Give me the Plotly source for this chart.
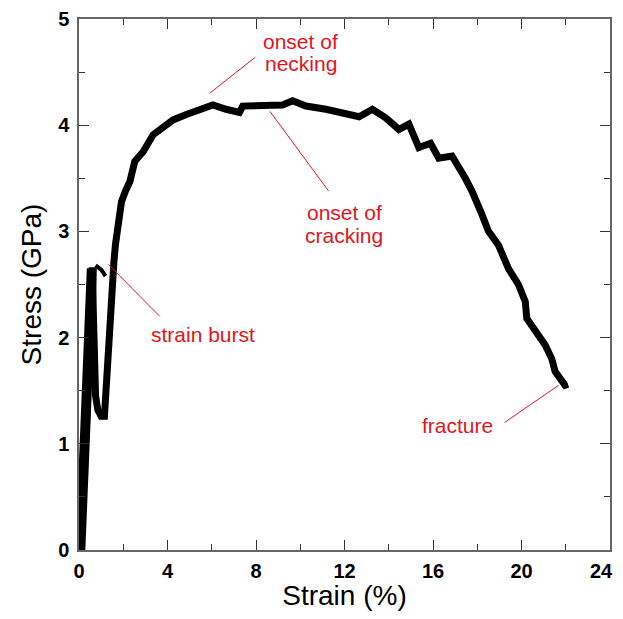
import plotly.graph_objects as go

# Stress-strain curve (strain in %, stress in GPa)
load_strain = [0.06, 0.1, 0.15, 0.2, 0.25, 0.3, 0.34, 0.38, 0.42, 0.46, 0.5, 0.52, 0.55, 0.58]
load_stress = [0.0, 0.2, 0.45, 0.7, 0.95, 1.2, 1.4, 1.6, 1.8, 1.95, 2.15, 2.35, 2.5, 2.65]

strain = [0.62, 0.64, 0.67, 0.7, 0.75, 0.85, 1.0, 1.15,
          1.2, 1.25, 1.3, 1.35, 1.42, 1.5, 1.58, 1.65, 1.77, 1.92, 2.1, 2.3, 2.52, 2.9, 3.35, 3.65,
          4.25, 4.85, 5.45, 6.05, 6.65, 7.25, 7.4, 8.15, 8.75, 9.2, 9.65, 10.26, 11.16, 11.9,
          12.66, 13.26, 13.86, 14.46, 14.91, 15.36, 15.89, 16.26, 16.86, 17.46, 17.76, 18.21,
          18.51, 18.96, 19.41, 19.86, 20.17, 20.24, 20.62, 21.07, 21.37, 21.52, 21.97, 22.1]
stress = [2.6, 2.3, 1.95, 1.65, 1.45, 1.32, 1.26, 1.26,
          1.45, 1.7, 1.9, 2.1, 2.3, 2.5, 2.72, 2.88, 3.13, 3.28, 3.38, 3.47, 3.66, 3.75, 3.91, 3.96,
          4.05, 4.10, 4.15, 4.19, 4.15, 4.12, 4.18, 4.18, 4.18, 4.19, 4.23, 4.18, 4.15, 4.12,
          4.08, 4.15, 4.07, 3.96, 4.01, 3.79, 3.83, 3.69, 3.71, 3.50, 3.38, 3.16,
          3.00, 2.87, 2.65, 2.50, 2.34, 2.18, 2.06, 1.93, 1.80, 1.68, 1.55, 1.56]

# small strain-burst fragment
burst_strain = [0.75, 1.0, 1.2]
burst_stress = [2.68, 2.64, 2.58]

# annotations: text lines, text x, text y per line, leader line (from, to)
labels = [
    (["onset of", "necking"], 10.03, [4.79, 4.58], (5.90, 4.30), (7.97, 4.64)),
    (["onset of", "cracking"], 11.98, [3.18, 2.96], (8.63, 4.13), (11.28, 3.38)),
    (["strain burst"], 5.60, [2.03], (1.32, 2.69), (3.65, 2.20)),
    (["fracture"], 17.09, [1.17], (19.23, 1.20), (21.67, 1.55)),
]

x_ticks = [0, 4, 8, 12, 16, 20, 24]
x_tick_labels = ["0", "4", "8", "12", "16", "20", ""]
last_x_label = "24"   # drawn separately so it stays inside the page edge
y_ticks = [0, 1, 2, 3, 4, 5]

RED = "#e3141c"
FONT = "Liberation Sans, Arial, Helvetica, sans-serif"

fig = go.Figure()
fig.add_trace(go.Scatter(x=load_strain + [0.6] + strain, y=load_stress + [2.66] + stress, mode="lines",
                         line=dict(color="black", width=7), showlegend=False))
fig.add_trace(go.Scatter(x=load_strain, y=load_stress, mode="lines",
                         line=dict(color="black", width=10), showlegend=False))
fig.add_trace(go.Scatter(x=burst_strain, y=burst_stress, mode="lines",
                         line=dict(color="black", width=4), showlegend=False))

for lines, tx, tys, p0, p1 in labels:
    for line, ty in zip(lines, tys):
        fig.add_annotation(x=tx, y=ty, text=line, showarrow=False,
                           font=dict(family=FONT, size=21, color=RED))
    fig.add_shape(type="line", x0=p0[0], y0=p0[1], x1=p1[0], y1=p1[1],
                  line=dict(color=RED, width=1))

fig.add_annotation(x=x_ticks[-1], y=0, xref="x", yref="y", text=last_x_label, showarrow=False,
                   xanchor="right", yanchor="top", xshift=4, yshift=-9, borderpad=0,
                   font=dict(family=FONT, size=20, color="black", weight="bold"))

axis_common = dict(showline=True, linecolor="#666666", linewidth=1.5, mirror="ticks",
                   ticks="inside", ticklen=10, tickwidth=1.2, tickcolor="#333333",
                   showgrid=False, zeroline=False, automargin=False,
                   tickfont=dict(family=FONT, size=20, color="black", weight="bold"))

fig.update_xaxes(range=[0, 24], tickvals=x_ticks, ticktext=x_tick_labels,
                 minor=dict(ticks="inside", ticklen=6, dtick=2, tickcolor="#333333", tickwidth=1.2),
                 ticklabelstandoff=2,
                 title=dict(text="Strain (%)", font=dict(family=FONT, size=28, color="black"), standoff=4),
                 **axis_common)
fig.update_yaxes(range=[0, 5], tickvals=y_ticks, ticktext=[str(v) for v in y_ticks],
                 minor=dict(ticks="inside", ticklen=6, dtick=0.5, tickcolor="#333333", tickwidth=1.2),
                 ticklabelstandoff=4,
                 title=dict(text="Stress (GPa)", font=dict(family=FONT, size=28, color="black"), standoff=8),
                 **axis_common)

# page body has an 8px default margin, so the figure is sized/offset to compensate
fig.update_layout(width=615, height=603, margin=dict(l=71, r=13, t=11, b=61),
                  plot_bgcolor="white", paper_bgcolor="white")

fig.write_html("out.html")
